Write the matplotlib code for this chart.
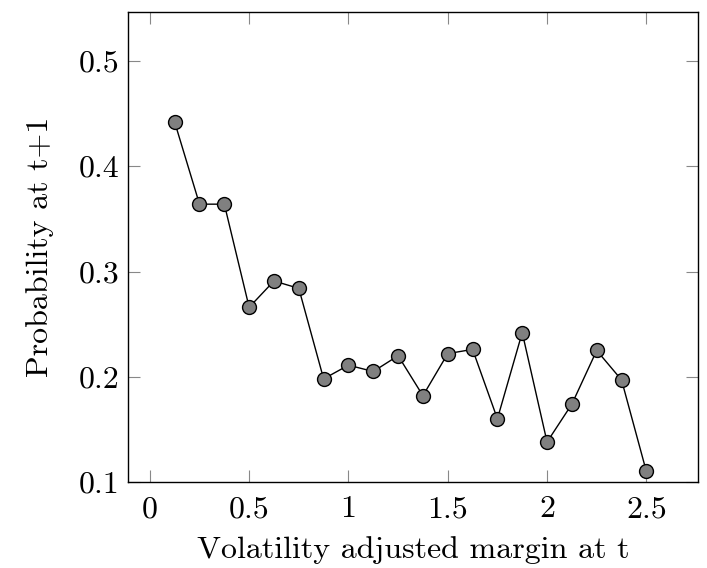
import matplotlib
matplotlib.use("Agg")
import matplotlib.pyplot as plt

x_vals = [0.125, 0.25, 0.375, 0.5, 0.625, 0.75, 0.875, 1.0, 1.125, 1.25,
          1.375, 1.5, 1.625, 1.75, 1.875, 2.0, 2.125, 2.25, 2.375, 2.5]
y_vals = [0.442, 0.364, 0.364, 0.266, 0.291, 0.284, 0.198, 0.211, 0.205, 0.220,
          0.182, 0.222, 0.226, 0.160, 0.242, 0.138, 0.174, 0.225, 0.197, 0.110]
x_ticks = [0, 0.5, 1, 1.5, 2, 2.5]
x_ticklabels = ["0", "0.5", "1", "1.5", "2", "2.5"]
y_ticks = [0.1, 0.2, 0.3, 0.4, 0.5]
y_ticklabels = ["0.1", "0.2", "0.3", "0.4", "0.5"]

plt.rcParams['font.family'] = 'cmr10'
plt.rcParams['mathtext.fontset'] = 'cm'
plt.rcParams['axes.formatter.use_mathtext'] = True

fig = plt.figure(figsize=(7.07, 5.68), dpi=100)
ax = fig.add_axes([128/707, 1-482/568, (698-128)/707, (482-12)/568])

ax.plot(x_vals, y_vals, color='black', linewidth=1.0, marker='o',
        markersize=10, markerfacecolor='#808080', markeredgecolor='black',
        markeredgewidth=1.0)

ax.set_xlim(-0.11, 2.76)
ax.set_ylim(0.1, 0.5466)
ax.set_xticks(x_ticks)
ax.set_xticklabels(x_ticklabels)
ax.set_yticks(y_ticks)
ax.set_yticklabels(y_ticklabels)
ax.tick_params(direction='in', top=True, right=True, length=8.5, width=0.8,
               color='#888888', labelsize=23)
ax.tick_params(axis='x', pad=10)
ax.tick_params(axis='y', pad=6)
for s in ax.spines.values():
    s.set_linewidth(1.0)

ax.set_xlabel("Volatility adjusted margin at t", fontsize=23, labelpad=9)
ax.set_ylabel("Probability at t+1", fontsize=23, labelpad=18)

fig.savefig("out.png", dpi=100)
